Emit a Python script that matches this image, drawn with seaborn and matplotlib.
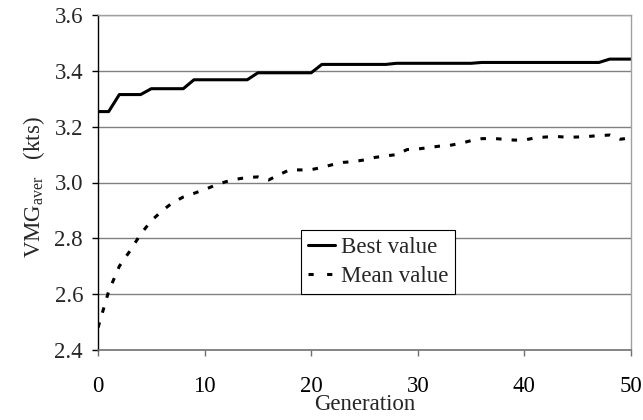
import matplotlib
matplotlib.use("Agg")
import matplotlib.pyplot as plt
import numpy as np
import pandas as pd
import seaborn as sns

# ---- data ----
generations = list(range(51))
best_value = ([3.254] * 2 + [3.315] * 3 + [3.336] * 4 + [3.368] * 6 + [3.393] * 6
              + [3.423] * 7 + [3.427] * 8 + [3.430] * 12 + [3.442] * 3)
mean_value = [2.48, 2.61, 2.70, 2.755, 2.815, 2.863, 2.898, 2.928, 2.948, 2.961,
              2.975, 2.99, 3.003, 3.012, 3.018, 3.02, 3.009, 3.028, 3.046, 3.045,
              3.046, 3.054, 3.064, 3.072, 3.075, 3.081, 3.09, 3.095, 3.10, 3.118,
              3.12, 3.125, 3.13, 3.133, 3.14, 3.15, 3.157, 3.158, 3.155, 3.152,
              3.152, 3.16, 3.163, 3.165, 3.162, 3.163, 3.165, 3.168, 3.17, 3.155, 3.16]
series_names = ["Best value", "Mean value"]
x_ticks = [0, 10, 20, 30, 40, 50]
y_ticks = [2.4, 2.6, 2.8, 3.0, 3.2, 3.4, 3.6]

df = pd.DataFrame({
    "Generation": generations * 2,
    "value": best_value + mean_value,
    "series": [series_names[0]] * len(generations) + [series_names[1]] * len(generations),
})

sns.set_style("white")
plt.rcParams["font.family"] = ["Liberation Serif", "DejaVu Serif"]
plt.rcParams["mathtext.fontset"] = "custom"
plt.rcParams["mathtext.rm"] = "Liberation Serif"
plt.rcParams["mathtext.it"] = "Liberation Serif:italic"

FS = 16.5
fig = plt.figure(figsize=(6.43, 4.20), dpi=100)
W, H = 643, 420
ax = fig.add_axes([98 / W, 1 - 350 / H, (631 - 98) / W, (350 - 15) / H])

sns.lineplot(data=df, x="Generation", y="value", hue="series", style="series",
             palette=["black", "black"], dashes={series_names[0]: "", series_names[1]: (1.8, 3.3)},
             linewidth=2.2, ax=ax, legend=True)

ax.set_xlim(0, 50)
ax.set_ylim(2.4, 3.6)
ax.set_xticks(x_ticks)
ax.set_yticks(y_ticks)
ax.set_xticklabels([str(t) for t in x_ticks], fontsize=FS)
ax.set_yticklabels([f"{t:.1f}" for t in y_ticks], fontsize=FS)

grid_c = "#808080"
for t in y_ticks[1:]:
    ax.axhline(t, color=grid_c, lw=1.0, zorder=0.5)

for s in ["top", "right"]:
    ax.spines[s].set_color("#a0a0a0")
    ax.spines[s].set_linewidth(1.0)
ax.spines["bottom"].set_color("#707070")
ax.spines["bottom"].set_linewidth(1.2)
ax.spines["left"].set_color("black")
ax.spines["left"].set_linewidth(1.0)

ax.tick_params(axis="x", direction="out", length=4.3, width=1.0, color="#707070",
               pad=14.5, labelcolor="black", bottom=True)
ax.tick_params(axis="y", direction="out", length=4.3, width=1.0, color="black",
               pad=6.5, left=True)

ax.set_xlabel("Generation", fontsize=FS)
ax.xaxis.set_label_coords(0.5, (350 - 394) / 335)
ax.set_ylabel(r"VMG$_{\mathrm{aver}}$   (kts)", fontsize=FS)
ax.yaxis.set_label_coords((47 - 98) / 533, (350 - 187) / 335)

handles, labels = ax.get_legend_handles_labels()
leg = ax.legend(handles, labels, loc="upper left",
                bbox_to_anchor=(300.7 / W, 1 - 230 / H), bbox_transform=fig.transFigure,
                borderaxespad=0, fontsize=FS, frameon=True, fancybox=False,
                framealpha=1, edgecolor="black", handlelength=1.2,
                handletextpad=0.25, labelspacing=0.35, borderpad=0.3)
leg.get_frame().set_linewidth(0.8)
for line in leg.get_lines():
    line.set_linewidth(2.2)
    if line.get_linestyle() != "-":
        line.set_dashes((1.7, 4.4))

fig.savefig("out.png", dpi=100)
